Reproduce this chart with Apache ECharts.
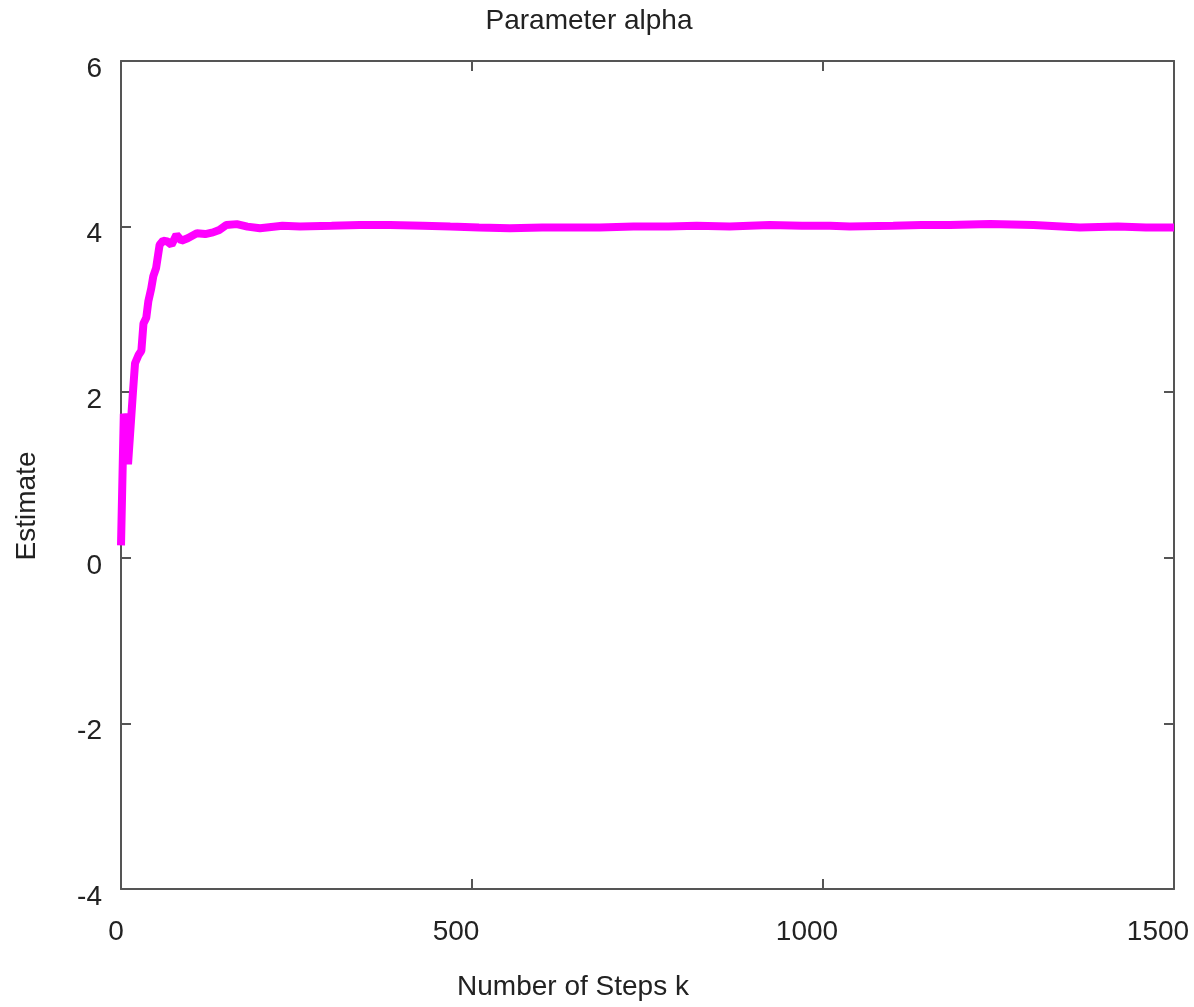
<!DOCTYPE html>
<html>
<head>
<meta charset="utf-8">
<title>Parameter alpha</title>
<script src="https://cdn.jsdelivr.net/npm/echarts@6/dist/echarts.min.js"></script>
<style>
  html, body { margin: 0; padding: 0; background: #fff; }
  #chart { width: 1194px; height: 1007px; }
</style>
</head>
<body>
<div id="chart"></div>
<script>
// data
const steps = [0, 2, 4, 7, 10, 13, 17, 20, 25, 29, 32, 36, 39, 43, 46, 50, 55, 60, 66, 72, 79, 86, 95, 108, 120, 131, 140, 150, 165, 180, 198, 230, 255, 300, 340, 383, 430, 469, 510, 554, 600, 640, 682, 730, 780, 820, 867, 924, 970, 1010, 1038, 1100, 1140, 1181, 1238, 1300, 1366, 1420, 1460, 1500];
const alpha = [0.15, 0.15, 1.74, 1.6, 1.13, 1.5, 2.0, 2.35, 2.45, 2.5, 2.83, 2.9, 3.1, 3.25, 3.4, 3.5, 3.78, 3.83, 3.82, 3.78, 3.9, 3.83, 3.86, 3.92, 3.91, 3.93, 3.96, 4.02, 4.03, 4.0, 3.98, 4.01, 4.0, 4.01, 4.02, 4.02, 4.01, 4.0, 3.99, 3.98, 3.99, 3.99, 3.99, 4.0, 4.0, 4.01, 4.0, 4.02, 4.01, 4.01, 4.0, 4.01, 4.02, 4.02, 4.03, 4.02, 3.99, 4.0, 3.99, 3.99];
const xTicks = [0, 500, 1000, 1500];
const yTicks = [-4, -2, 0, 2, 4, 6];

const chart = echarts.init(document.getElementById('chart'));

const font = 'Liberation Sans';
const frame = '#555555';
const txt = '#222222';

const axisBase = {
  type: 'value',
  axisLine: { show: true, onZero: false, lineStyle: { color: frame, width: 2 } },
  axisTick: { show: true, inside: true, length: 10, lineStyle: { color: frame, width: 2 } },
  splitLine: { show: false },
};

const option = {
  animation: false,
  backgroundColor: '#ffffff',
  textStyle: { fontFamily: font },
  grid: { left: 121, right: 20, top: 61, bottom: 118, outerBoundsMode: 'none', containLabel: false },
  graphic: [
    {
      type: 'text', x: 589, y: 21,
      style: { text: 'Parameter alpha', fontSize: 28, fontFamily: font, fill: txt, align: 'center', verticalAlign: 'middle' }
    },
    {
      type: 'text', x: 27, y: 506, rotation: Math.PI / 2,
      style: { text: 'Estimate', fontSize: 28, fontFamily: font, fill: txt, align: 'center', verticalAlign: 'middle' }
    },
    {
      type: 'text', x: 573, y: 987,
      style: { text: 'Number of Steps k', fontSize: 28, fontFamily: font, fill: txt, align: 'center', verticalAlign: 'middle' }
    }
  ],
  xAxis: [
    Object.assign({}, axisBase, {
      position: 'bottom', min: xTicks[0], max: xTicks[xTicks.length - 1], interval: 500,
      axisLabel: {
        margin: 29, color: txt, fontFamily: font, fontSize: 28,
        formatter: v => (v === 0 ? '{z|' + v + '}' : '{n|' + v + '}'),
        rich: {
          z: { fontSize: 28, fontFamily: font, color: txt, padding: [0, 10, 0, 0] },
          n: { fontSize: 28, fontFamily: font, color: txt, padding: [0, 32, 0, 0] }
        }
      }
    }),
    Object.assign({}, axisBase, {
      position: 'top', min: xTicks[0], max: xTicks[xTicks.length - 1], interval: 2 * 250,
      axisLabel: { show: false }
    })
  ],
  yAxis: [
    Object.assign({}, axisBase, {
      position: 'left', min: yTicks[0], max: yTicks[yTicks.length - 1], interval: 2,
      axisLabel: {
        margin: 19, color: txt, fontFamily: font, fontSize: 28,
        formatter: v => '{y|' + v + '}',
        rich: {
          y: { fontSize: 28, fontFamily: font, color: txt, padding: [16, 0, 0, 0] }
        }
      }
    }),
    Object.assign({}, axisBase, {
      position: 'right', min: yTicks[0], max: yTicks[yTicks.length - 1], interval: 2,
      axisLabel: { show: false }
    })
  ],
  series: [
    {
      name: 'alpha',
      type: 'line',
      xAxisIndex: 0,
      yAxisIndex: 0,
      data: steps.map((s, i) => [s, alpha[i]]),
      showSymbol: false,
      smooth: false,
      lineStyle: { color: '#ff00ff', width: 8 },
      itemStyle: { color: '#ff00ff' }
    }
  ]
};

chart.setOption(option);
</script>
</body>
</html>
